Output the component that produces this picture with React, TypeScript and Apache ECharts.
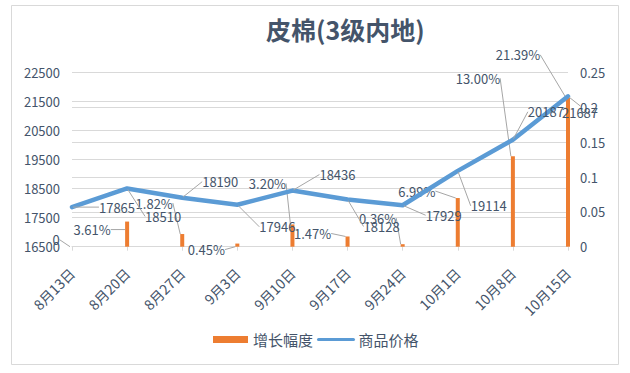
import React, { useEffect, useRef } from 'react';
import * as echarts from 'echarts';

const categories = ['8月13日', '8月20日', '8月27日', '9月3日', '9月10日', '9月17日', '9月24日', '10月1日', '10月8日', '10月15日'];
const priceValues = [17865, 18510, 18190, 17946, 18436, 18128, 17929, 19114, 20187, 21687];
const growthValues = [0, 0.0361, 0.0182, 0.0045, 0.032, 0.0147, 0.0036, 0.0699, 0.13, 0.2139];
const priceAxis = { min: 16500, max: 22500, interval: 1000 };
const growthAxis = { min: 0, max: 0.25, interval: 0.05 };

// label placement offsets (layout only), relative to the data point / bar top
const priceLabelOffsets = [[45, 0], [36, 28], [38, -16], [40, 22], [45, -16], [34, 27], [41, 10], [31, 35], [33, -28], [12, 16]];
const growthLabelOffsets = [[-16, -7], [-35, 8], [-28, -31], [-31, 6], [-25, -41], [-35, -3], [-25, -26], [-41, -7], [-35, -78], [-50, -43]];

const FONT = '"Noto Sans CJK SC", "Noto Sans", sans-serif';
const TEXT = '#44546a';
const GRID = '#d9d9d9';

export default function App() {
  const ref = useRef<HTMLDivElement>(null);
  useEffect(() => {
    if (!ref.current) return;
    const chart = echarts.init(ref.current, undefined, { renderer: 'svg' });
    chart.setOption({
      animation: false,
      backgroundColor: '#fff',
      textStyle: { fontFamily: FONT },
      title: {
        text: '皮棉(3级内地)',
        left: 261,
        top: 11,
        textStyle: { fontSize: 25, fontWeight: 'bold', color: TEXT, fontFamily: FONT },
      },
      graphic: [
        {
          type: 'rect',
          shape: { x: 11.5, y: 5.5, width: 607, height: 359 },
          style: { fill: 'none', stroke: GRID, lineWidth: 1 },
          silent: true,
        },
      ],
      legend: {
        left: 213,
        top: 332,
        padding: 0,
        itemGap: 4,
        itemWidth: 35,
        itemHeight: 7,
        textStyle: { fontSize: 15, color: TEXT, fontFamily: FONT },
        data: [
          { name: '增长幅度', icon: 'rect' },
          { name: '商品价格', itemStyle: { opacity: 0 }, lineStyle: { width: 3 } },
        ],
      },
      grid: { left: 72, right: 62, top: 72.7, bottom: 126.3, containLabel: false },
      xAxis: {
        type: 'category',
        data: categories,
        boundaryGap: false,
        axisLine: { lineStyle: { color: GRID } },
        axisTick: { show: true, length: 4, lineStyle: { color: GRID } },
        axisLabel: { rotate: 45, fontSize: 14, color: TEXT, margin: 24, fontFamily: FONT },
      },
      yAxis: [
        {
          type: 'value',
          min: priceAxis.min,
          max: priceAxis.max,
          interval: priceAxis.interval,
          axisLine: { show: false },
          axisTick: { show: false },
          splitLine: { lineStyle: { color: GRID } },
          axisLabel: { fontSize: 13, color: TEXT, margin: 12, fontFamily: FONT, formatter: (v: number) => String(v) },
        },
        {
          type: 'value',
          min: growthAxis.min,
          max: growthAxis.max,
          interval: growthAxis.interval,
          axisLine: { show: false },
          axisTick: { show: false },
          splitLine: { lineStyle: { color: GRID } },
          axisLabel: { fontSize: 13, color: TEXT, margin: 12, fontFamily: FONT, formatter: (v: number) => String(+v.toFixed(2)) },
        },
      ],
      series: [
        {
          name: '增长幅度',
          type: 'bar',
          yAxisIndex: 1,
          data: growthValues,
          barWidth: 4,
          itemStyle: { color: '#ed7d31' },
          label: {
            show: true,
            position: 'top',
            fontSize: 13,
            color: TEXT,
            fontFamily: FONT,
            formatter: (p: any) => (p.value === 0 ? '0' : (p.value * 100).toFixed(2) + '%'),
          },
          labelLine: { show: true, lineStyle: { color: '#a6a6a6', width: 1 } },
          labelLayout: (params: any) => {
            const o = growthLabelOffsets[params.dataIndex];
            const r = params.rect;
            return { x: r.x + r.width / 2 + o[0], y: r.y + o[1], align: 'center', verticalAlign: 'middle' };
          },
          z: 2,
        },
        {
          name: '商品价格',
          type: 'line',
          yAxisIndex: 0,
          data: priceValues,
          symbol: 'circle',
          symbolSize: 2,
          showSymbol: true,
          itemStyle: { color: '#5b9bd5' },
          lineStyle: { color: '#5b9bd5', width: 4.5, join: 'round', cap: 'round' },
          label: { show: true, position: 'right', fontSize: 13, color: TEXT, fontFamily: FONT },
          labelLine: { show: true, lineStyle: { color: '#a6a6a6', width: 1 } },
          labelLayout: (params: any) => {
            const o = priceLabelOffsets[params.dataIndex];
            const r = params.rect;
            return { x: r.x + r.width / 2 + o[0], y: r.y + r.height / 2 + o[1], align: 'center', verticalAlign: 'middle' };
          },
          z: 3,
        },
      ],
    });
    return () => chart.dispose();
  }, []);
  return <div ref={ref} style={{ position: 'fixed', left: 0, top: 0, width: 630, height: 373 }} />;
}
